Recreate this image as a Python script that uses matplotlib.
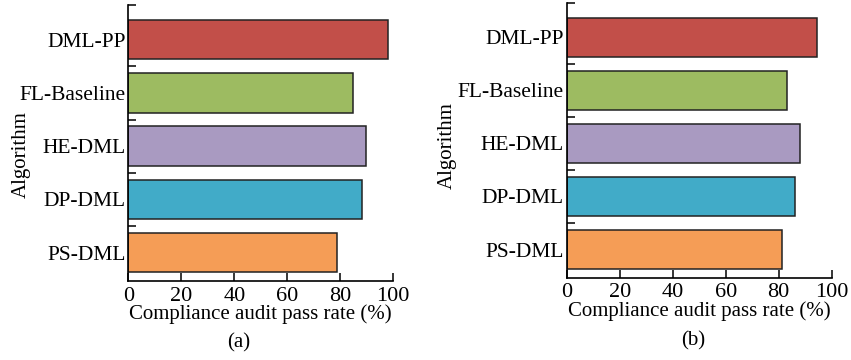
import numpy as np
import matplotlib.pyplot as plt

plt.rcParams['font.family'] = ['Liberation Serif', 'DejaVu Serif']

algorithms = ['PS-DML', 'DP-DML', 'HE-DML', 'FL-Baseline', 'DML-PP']
rate_a = [78.9, 88.1, 89.6, 84.9, 98.1]
rate_b = [81.1, 86.3, 88.0, 83.3, 94.3]
colors = ['#F59D56', '#41ABC8', '#A99AC1', '#9DBB61', '#C24F49']


def draw_panel(ax, values, label_xy):
    y = np.arange(len(algorithms))
    ax.barh(y, values, height=0.74, color=colors, edgecolor='#222222', linewidth=1.1)
    ax.set_xlim(0, 100)
    ax.set_ylim(-0.535, 4.65)
    ax.set_xticks([0, 20, 40, 60, 80, 100])
    ax.set_yticks(y)
    ax.set_yticklabels(algorithms)
    ax.set_yticks([0.5, 1.5, 2.5, 3.5, 4.65], minor=True)
    ax.tick_params(axis='y', which='major', length=0, labelsize=15.5, pad=2)
    ax.tick_params(axis='y', which='minor', direction='in', length=6, width=1.1)
    ax.tick_params(axis='x', direction='in', length=6, width=1.1, labelsize=16, pad=4)
    for s in ['top', 'right']:
        ax.spines[s].set_visible(False)
    for s in ['left', 'bottom']:
        ax.spines[s].set_linewidth(1.2)
    ax.set_xlabel('Compliance audit pass rate (%)', fontsize=15, labelpad=-1)
    ax.set_ylabel('Algorithm', fontsize=15)
    ax.yaxis.set_label_coords(*label_xy)


fig = plt.figure(figsize=(8.51, 3.6), dpi=100)
ax1 = fig.add_axes([0.1508, 0.219, 0.3113, 0.767])
ax2 = fig.add_axes([0.666, 0.228, 0.3113, 0.764])
draw_panel(ax1, rate_a, (-0.37, 0.457))
draw_panel(ax2, rate_b, (-0.414, 0.48))
fig.text(0.280, 0.047, '(a)', ha='center', va='center', fontsize=15)
fig.text(0.814, 0.053, '(b)', ha='center', va='center', fontsize=15)
fig.savefig('out.png', dpi=100)
